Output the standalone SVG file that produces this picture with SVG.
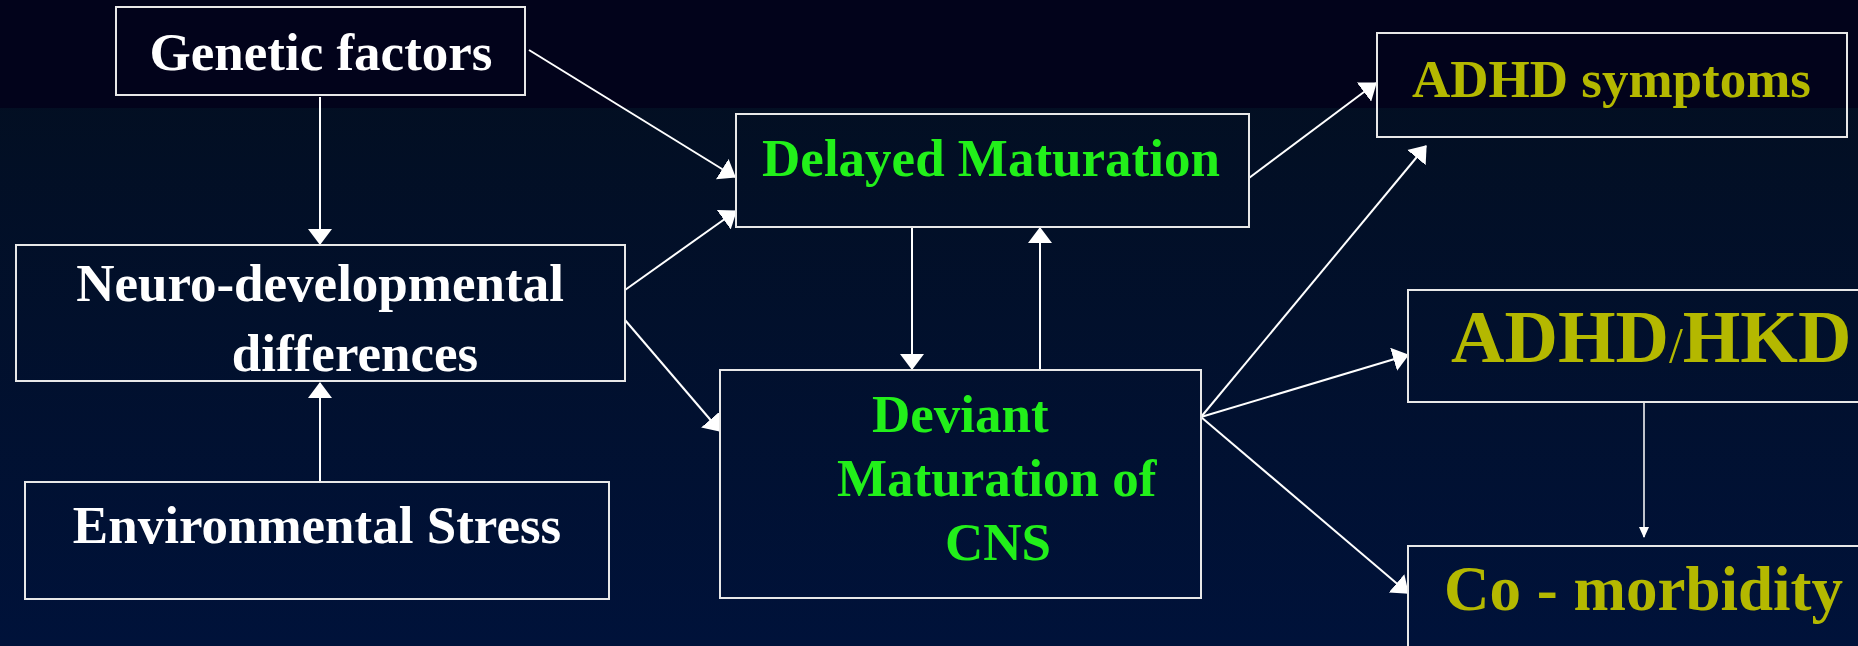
<svg xmlns="http://www.w3.org/2000/svg" width="1858" height="646" viewBox="0 0 1858 646">
  <defs>
    <linearGradient id="bgLower" x1="0" y1="0" x2="0" y2="1">
      <stop offset="0" stop-color="#030e1e"/>
      <stop offset="1" stop-color="#00123a"/>
    </linearGradient>
    <marker id="head" markerUnits="userSpaceOnUse" markerWidth="16" markerHeight="24" viewBox="0 0 16 24" refX="15" refY="12" orient="auto">
      <path d="M0,0 L16,12 L0,24 Z" fill="#ffffff"/>
    </marker>
    <marker id="headSmall" markerUnits="userSpaceOnUse" markerWidth="11" markerHeight="10" viewBox="0 0 11 10" refX="10" refY="5" orient="auto">
      <path d="M0,0 L11,5 L0,10 Z" fill="#ffffff"/>
    </marker>
    <style>
      .box { fill: none; stroke: #e8e8e8; stroke-width: 2; }
      .lbl { font-family: "Liberation Serif", "Times New Roman", serif; font-weight: bold; font-size: 53px; }
      .white { fill: #ffffff; }
      .green { fill: #22f01a; }
      .olive { fill: #b4b800; }
      .conn { stroke: #ffffff; stroke-width: 2; fill: none; marker-end: url(#head); }
      .conn-thin { stroke: #ffffff; stroke-width: 1.5; fill: none; marker-end: url(#headSmall); }
    </style>
  </defs>

  <!-- background: dark header band over a navy gradient -->
  <rect x="0" y="0" width="1858" height="646" fill="url(#bgLower)"/>
  <rect x="0" y="0" width="1858" height="108" fill="#02031b"/>

  <!-- connectors -->
  <g id="connectors">
    <line class="conn" x1="320" y1="97" x2="320" y2="244"/>
    <line class="conn" x1="320" y1="482" x2="320" y2="383"/>
    <line class="conn" x1="529" y1="50" x2="735" y2="177"/>
    <line class="conn" x1="625" y1="290" x2="736" y2="211"/>
    <line class="conn" x1="625" y1="320" x2="720" y2="431"/>
    <line class="conn" x1="912" y1="227" x2="912" y2="369"/>
    <line class="conn" x1="1040" y1="370" x2="1040" y2="228"/>
    <line class="conn" x1="1249" y1="178" x2="1376" y2="83"/>
    <line class="conn" x1="1201" y1="417" x2="1426" y2="146"/>
    <line class="conn" x1="1201" y1="417" x2="1408" y2="355"/>
    <line class="conn" x1="1201" y1="417" x2="1408" y2="593"/>
    <line class="conn-thin" x1="1644" y1="402" x2="1644" y2="537"/>
  </g>

  <g id="genetic-factors">
    <rect class="box" x="116" y="7" width="409" height="88"/>
    <text class="lbl white" x="321" y="70" text-anchor="middle">Genetic factors</text>
  </g>

  <g id="neuro-developmental">
    <rect class="box" x="16" y="245" width="609" height="136"/>
    <text class="lbl white" x="320" y="301" text-anchor="middle">Neuro-developmental</text>
    <text class="lbl white" x="355" y="371" text-anchor="middle">differences</text>
  </g>

  <g id="environmental-stress">
    <rect class="box" x="25" y="482" width="584" height="117"/>
    <text class="lbl white" x="317" y="543" text-anchor="middle">Environmental Stress</text>
  </g>

  <g id="delayed-maturation">
    <rect class="box" x="736" y="114" width="513" height="113"/>
    <text class="lbl green" x="991" y="176" text-anchor="middle">Delayed Maturation</text>
  </g>

  <g id="deviant-maturation">
    <rect class="box" x="720" y="370" width="481" height="228"/>
    <text class="lbl green" x="872" y="432">Deviant</text>
    <text class="lbl green" x="837" y="496">Maturation of</text>
    <text class="lbl green" x="945" y="560">CNS</text>
  </g>

  <g id="adhd-symptoms">
    <rect class="box" x="1377" y="33" width="470" height="104"/>
    <text class="lbl olive" x="1412" y="97">ADHD symptoms</text>
  </g>

  <g id="adhd-hkd">
    <path class="box" d="M1860,290 H1408 V402 H1860"/>
    <text class="lbl olive" x="1451" y="362" style="font-size:74px">ADHD<tspan style="font-size:50px;font-weight:normal">/</tspan>HKD</text>
  </g>

  <g id="co-morbidity">
    <path class="box" d="M1860,546 H1408 V650"/>
    <text class="lbl olive" x="1444" y="610" style="font-size:63px">Co - morbidity</text>
  </g>
</svg>
